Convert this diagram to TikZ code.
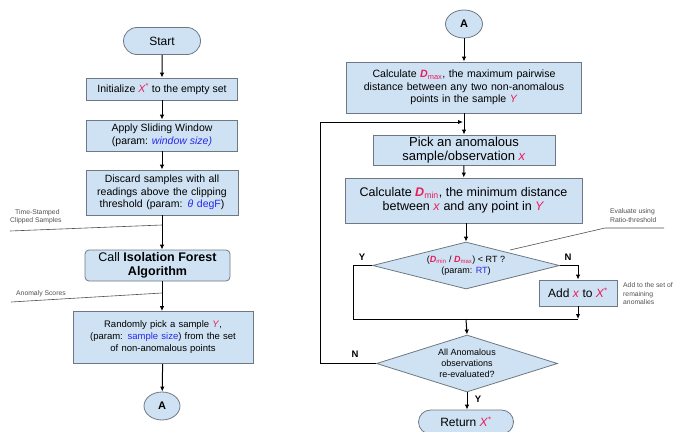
\documentclass[tikz,border=0pt]{standalone}
\usepackage{fontspec}
\setmainfont{Liberation Sans}
\usetikzlibrary{shapes.misc,shapes.geometric,arrows.meta}
\definecolor{boxblue}{RGB}{207,226,243}
\definecolor{boxline}{RGB}{110,120,130}
\definecolor{xred}{RGB}{232,28,92}
\definecolor{xblue}{RGB}{40,40,235}
\definecolor{notegray}{RGB}{80,80,80}
\newcommand{\rv}[1]{\textcolor{xred}{\textit{#1}}}
\newcommand{\bv}[1]{\textcolor{xblue}{#1}}
\newcommand{\Xs}{\rv{X}\textsuperscript{\textcolor{xred}{*}}}
\newcommand{\Dsub}[1]{\rv{\textbf{D}}\textsubscript{\textcolor{xred}{#1}}}
\tikzset{
  procbox/.style={draw=boxline, fill=boxblue, line width=0.8pt, align=center, inner sep=1pt, font=\fontsize{10.5}{12.5}\selectfont},
  termbox/.style={procbox, rounded rectangle},
  conn/.style={ellipse, draw=boxline, fill=boxblue, line width=0.8pt, inner sep=0pt, font=\bfseries\fontsize{11}{12}\selectfont},
  decbox/.style={diamond, draw=boxline, fill=boxblue, line width=0.8pt, inner sep=0pt, align=center},
  flow/.style={draw=black, line width=1pt, -{Latex[length=5pt,width=4.5pt]}},
  plain/.style={draw=black, line width=1pt},
  note/.style={font=\fontsize{6.8}{8.6}\selectfont, text=notegray, align=left, inner sep=0pt, anchor=north west},
  noteline/.style={draw=notegray, line width=0.6pt},
  yn/.style={font=\bfseries\fontsize{9.5}{10}\selectfont, inner sep=0pt}
}
\begin{document}
\begin{tikzpicture}[x=1pt,y=-1pt]
\useasboundingbox (0,0) rectangle (677,431);
% left column
\node[termbox, minimum width=79pt, minimum height=27pt, font=\fontsize{12}{13}\selectfont] (start) at (162,41) {Start};
\node[procbox, minimum width=151pt, minimum height=22pt] (init) at (162,89) {Initialize \Xs{} to the empty set};
\node[procbox, minimum width=151pt, minimum height=31pt] (slide) at (162,135.5) {Apply Sliding Window\\(param: \bv{\textit{window size)}}};
\node[procbox, minimum width=152pt, minimum height=45pt, text width=145pt] (discard) at (162,192.5) {Discard samples with all readings above the clipping threshold (param: \bv{\textit{θ} degF})};
\node[procbox, rounded corners=4pt, minimum width=145pt, minimum height=31pt, font=\fontsize{12.5}{13.5}\selectfont] (iso) at (157.5,265.5) {Call \textbf{Isolation Forest}\\\textbf{Algorithm}};
\node[procbox, minimum width=180pt, minimum height=52pt, text width=172pt, font=\fontsize{9.5}{12}\selectfont] (rand) at (163,337.5) {Randomly pick a sample \rv{Y},\\(param: \bv{sample size}) from the set\\of non-anomalous points};
\node[conn, minimum width=36pt, minimum height=28pt] (A1) at (162,406) {A};
\draw[flow] (start) -- (init);
\draw[flow] (init) -- (slide);
\draw[flow] (slide) -- (discard);
\draw[flow] (discard.south) -- (discard.south |- iso.north);
\draw[flow] (discard.south |- iso.south) -- (rand.north -| discard.south);
\draw[flow] (rand) -- (A1);
\coordinate (ts) at (162,225);
\coordinate (as) at (162,293);
\coordinate (tsend) at (10,231);
\coordinate (asend) at (11,302);
\draw[noteline] (tsend) -- (ts);
\draw[noteline] (asend) -- (as);
\node[note] (tsl) at (10,209) {\hspace*{5pt}Time-Stamped\\Clipped Samples};
\node[note] (asl) at (16,290.5) {Anomaly Scores};
% right column
\node[conn, minimum width=37pt, minimum height=28pt] (A2) at (464,24) {A};
\node[procbox, minimum width=235pt, minimum height=51pt, text width=228pt, font=\fontsize{10.6}{12.6}\selectfont] (dmax) at (464,87.5) {Calculate \Dsub{max}, the maximum pairwise\\distance between any two non-anomalous\\points in the sample \rv{Y}};
\node[procbox, minimum width=182pt, minimum height=30pt, font=\fontsize{13}{13.5}\selectfont] (pick) at (464,150) {Pick an anomalous\\sample/observation \rv{x}};
\node[procbox, minimum width=237pt, minimum height=45pt, font=\fontsize{12.5}{14.5}\selectfont] (dmin) at (463.5,200.5) {Calculate \Dsub{min}, the minimum distance\\between \rv{x} and any point in \rv{Y}};
\node[decbox, minimum width=187pt, minimum height=47pt, aspect=4, font=\fontsize{9}{10.5}\selectfont] (d1) at (466,265.5) {(\Dsub{min} / \Dsub{max}) < RT ?\\(param: \bv{RT})};
\node[procbox, minimum width=78pt, minimum height=26pt, font=\fontsize{12}{13}\selectfont] (add) at (578,293) {Add \rv{x} to \Xs};
\node[decbox, minimum width=181pt, minimum height=57pt, aspect=3.2, font=\fontsize{9}{11}\selectfont] (d2) at (467,363.5) {All Anomalous\\observations\\re-evaluated?};
\node[termbox, minimum width=97pt, minimum height=24pt, font=\fontsize{12}{13}\selectfont] (ret) at (466,422) {Return \Xs};
\coordinate (loopin) at (464,122);
\coordinate (lpa) at (320,363.5);
\coordinate (lpb) at (320,122);
\coordinate (ya) at (353,265.5);
\coordinate (yb) at (353,319);
\coordinate (na) at (578,265.5);
\coordinate (jn) at (578,319);
\coordinate (mid) at (466,319);
\draw[flow] (A2) -- (dmax);
\draw[flow] (dmax.south) -- (pick.north);
\draw[flow] (d2.west) -- (lpa) -- (lpb) -- ([xshift=-1pt]loopin);
\draw[flow] (pick) -- (dmin);
\draw[flow] (dmin.south -| d1.north) -- (d1.north);
\draw[plain] (d1.west) -- (ya) -- (yb) -- (jn);
\draw[flow] (d1.east) -- (na) -- (add.north);
\draw[flow] (add.south) -- (jn);
\draw[flow] (mid) -- (d2.north);
\draw[flow] (d2.south) -- (ret.north -| d2.south);
\node[yn] (y1) at (362,257) {Y};
\node[yn] (n1) at (568,257) {N};
\node[yn] (n2) at (355,354) {N};
\node[yn] (y2) at (478,399) {Y};
% notes right
\coordinate (evp) at (510,250);
\coordinate (evk) at (605,228);
\coordinate (eve) at (664,228);
\draw[noteline] (evp) -- (evk) -- (eve);
\node[note] (evl) at (610,208.5) {Evaluate using\\Ratio-threshold};
\node[note] (adl) at (623,282.5) {Add to the set of\\remaining\\anomalies};
\end{tikzpicture}
\end{document}
